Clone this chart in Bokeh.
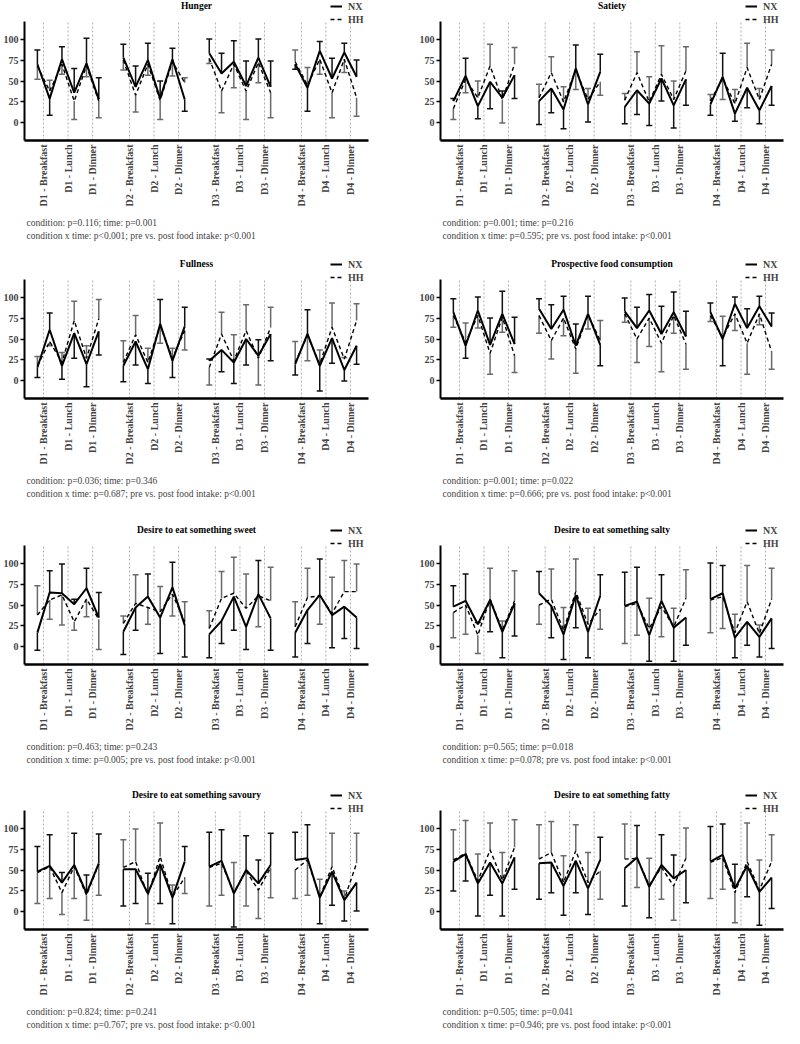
import math
from bokeh.plotting import figure
from bokeh.models import (Range1d, FixedTicker, Legend, LegendItem, Whisker, TeeHead,
                          ColumnDataSource, Title, Label)
from bokeh.layouts import column, row
from bokeh.embed import file_html
from bokeh.resources import INLINE

days = ["D1", "D2", "D3", "D4"]
meals = ["Breakfast", "Lunch", "Dinner"]
tick_labels = [f"{d} - {m}" for d in days for m in meals]
series_names = ["NX", "HH"]

titles = ["Hunger", "Satiety", "Fullness", "Prospective food consumption",
          "Desire to eat something sweet", "Desire to eat something salty",
          "Desire to eat something savoury", "Desire to eat something fatty"]

stats_line1 = ["condition: p=0.116; time: p=0.001", "condition: p=0.001; time: p=0.216",
               "condition: p=0.036; time: p=0.346", "condition: p=0.001; time: p=0.022",
               "condition: p=0.463; time: p=0.243", "condition: p=0.565; time: p=0.018",
               "condition: p=0.824; time: p=0.241", "condition: p=0.505; time: p=0.041"]
stats_line2 = ["condition x time: p<0.001; pre vs. post food intake: p<0.001",
               "condition x time: p=0.595; pre vs. post food intake: p<0.001",
               "condition x time: p=0.687; pre vs. post food intake: p<0.001",
               "condition x time: p=0.666; pre vs. post food intake: p<0.001",
               "condition x time: p=0.005; pre vs. post food intake: p<0.001",
               "condition x time: p=0.078; pre vs. post food intake: p<0.001",
               "condition x time: p=0.767; pre vs. post food intake: p<0.001",
               "condition x time: p=0.946; pre vs. post food intake: p<0.001"]

# order per day: pre/post breakfast, pre/post lunch, pre/post dinner
hunger_nx = [70, 29, 76, 36, 71, 28, 78, 43, 75, 29, 76, 28, 83, 59, 73, 44, 78, 43, 70, 42, 86, 53, 84, 55]
hunger_hh = [68, 38, 70, 26, 68, 26, 75, 33, 70, 27, 73, 48, 77, 38, 70, 38, 72, 36, 73, 45, 76, 36, 76, 30]
hunger_nx_sd = [17, 20, 15, 29, 30, 26, 16, 25, 20, 21, 13, 14, 17, 24, 25, 30, 22, 31, 6, 28, 11, 24, 11, 20]
hunger_hh_sd = [16, 13, 12, 22, 13, 20, 12, 20, 13, 23, 17, 6, 6, 26, 28, 34, 24, 30, 14, 21, 18, 30, 16, 22]

satiety_nx = [26, 56, 20, 49, 30, 57, 26, 41, 16, 65, 22, 61, 19, 39, 23, 53, 21, 52, 22, 55, 11, 42, 15, 44]
satiety_hh = [17, 52, 30, 68, 28, 70, 30, 60, 25, 63, 28, 49, 27, 60, 25, 58, 28, 62, 26, 53, 23, 66, 28, 70]
satiety_nx_sd = [3, 21, 15, 32, 8, 28, 28, 29, 23, 28, 21, 21, 20, 29, 26, 27, 27, 31, 13, 28, 9, 24, 16, 23]
satiety_hh_sd = [13, 16, 20, 26, 28, 20, 16, 19, 18, 23, 13, 16, 8, 25, 30, 34, 22, 29, 8, 25, 17, 29, 13, 17]

fullness_nx = [16, 61, 18, 57, 20, 59, 18, 47, 14, 68, 24, 65, 24, 37, 22, 50, 30, 56, 20, 56, 18, 51, 13, 42]
fullness_hh = [18, 47, 22, 72, 27, 74, 22, 55, 22, 66, 27, 60, 16, 56, 24, 60, 27, 64, 22, 54, 20, 64, 26, 72]
fullness_nx_sd = [12, 20, 16, 30, 27, 28, 19, 28, 17, 29, 20, 23, 2, 26, 25, 31, 19, 32, 13, 29, 30, 30, 13, 22]
fullness_hh_sd = [11, 5, 12, 23, 15, 23, 26, 23, 17, 21, 12, 23, 21, 26, 31, 31, 32, 24, 25, 30, 17, 29, 2, 20]

prosp_nx = [82, 42, 84, 43, 80, 44, 86, 62, 85, 42, 80, 43, 83, 63, 84, 56, 82, 53, 82, 50, 92, 63, 89, 65]
prosp_hh = [78, 46, 78, 33, 76, 30, 78, 48, 75, 38, 79, 48, 80, 50, 75, 45, 78, 44, 78, 52, 80, 45, 80, 35]
prosp_nx_sd = [16, 15, 16, 32, 27, 32, 12, 29, 16, 26, 21, 25, 16, 25, 19, 33, 24, 30, 11, 32, 8, 23, 12, 16]
prosp_hh_sd = [14, 23, 15, 25, 18, 20, 21, 22, 21, 29, 17, 24, 10, 28, 34, 34, 21, 30, 7, 25, 20, 37, 13, 21]

sweet_nx = [17, 65, 64, 51, 70, 35, 18, 47, 60, 35, 71, 26, 15, 31, 60, 24, 63, 34, 17, 44, 62, 38, 48, 35]
sweet_hh = [38, 56, 62, 30, 57, 33, 28, 52, 47, 42, 63, 30, 22, 58, 64, 46, 61, 55, 24, 59, 61, 40, 66, 66]
sweet_nx_sd = [21, 26, 35, 6, 24, 30, 27, 27, 27, 43, 30, 38, 28, 27, 40, 27, 40, 38, 29, 40, 43, 39, 38, 37]
sweet_hh_sd = [35, 23, 36, 10, 21, 36, 9, 34, 20, 30, 26, 24, 21, 32, 43, 41, 37, 40, 30, 35, 34, 43, 37, 33]

salty_nx = [48, 55, 27, 56, 18, 52, 64, 49, 15, 62, 18, 61, 49, 54, 14, 55, 23, 35, 57, 64, 11, 30, 12, 34]
salty_hh = [41, 50, 14, 57, 20, 55, 50, 57, 20, 66, 27, 45, 48, 52, 22, 48, 24, 58, 56, 60, 17, 54, 16, 57]
salty_nx_sd = [25, 32, 2, 38, 31, 39, 26, 38, 30, 39, 31, 25, 40, 41, 31, 31, 40, 33, 43, 33, 24, 28, 24, 36]
salty_hh_sd = [30, 35, 22, 37, 11, 36, 23, 36, 27, 39, 19, 24, 44, 38, 36, 36, 22, 34, 39, 38, 22, 43, 10, 37]

savoury_nx = [48, 55, 35, 56, 22, 58, 51, 51, 22, 57, 17, 60, 54, 61, 22, 50, 34, 56, 62, 64, 17, 48, 14, 35]
savoury_hh = [47, 54, 23, 54, 20, 57, 53, 60, 20, 66, 18, 41, 53, 58, 23, 49, 26, 53, 50, 62, 18, 54, 15, 58]
savoury_nx_sd = [30, 37, 12, 38, 22, 35, 44, 41, 24, 47, 31, 18, 41, 37, 40, 41, 28, 38, 33, 40, 31, 40, 25, 34]
savoury_hh_sd = [37, 38, 26, 38, 30, 37, 33, 39, 34, 40, 14, 19, 46, 38, 36, 42, 34, 36, 34, 42, 21, 40, 10, 36]

fatty_nx = [60, 69, 34, 59, 34, 65, 58, 59, 31, 61, 28, 62, 52, 65, 30, 56, 40, 50, 60, 68, 28, 55, 24, 41]
fatty_hh = [62, 70, 37, 74, 38, 77, 63, 71, 35, 73, 35, 49, 63, 64, 32, 53, 31, 64, 59, 65, 23, 60, 26, 60]
fatty_nx_sd = [35, 32, 39, 39, 39, 38, 43, 36, 35, 38, 31, 27, 45, 38, 37, 36, 28, 39, 42, 37, 29, 37, 40, 37]
fatty_hh_sd = [36, 39, 32, 32, 33, 33, 41, 37, 32, 31, 36, 34, 42, 35, 32, 38, 41, 36, 43, 38, 36, 46, 36, 32]

panels = [
    (hunger_nx, hunger_hh, hunger_nx_sd, hunger_hh_sd),
    (satiety_nx, satiety_hh, satiety_nx_sd, satiety_hh_sd),
    (fullness_nx, fullness_hh, fullness_nx_sd, fullness_hh_sd),
    (prosp_nx, prosp_hh, prosp_nx_sd, prosp_hh_sd),
    (sweet_nx, sweet_hh, sweet_nx_sd, sweet_hh_sd),
    (salty_nx, salty_hh, salty_nx_sd, salty_hh_sd),
    (savoury_nx, savoury_hh, savoury_nx_sd, savoury_hh_sd),
    (fatty_nx, fatty_hh, fatty_nx_sd, fatty_hh_sd),
]

SERIF = "Liberation Serif"
N_PER_DAY = 6
DAY_STEP = 7
xpos = [DAY_STEP * g + i for g in range(len(days)) for i in range(N_PER_DAY)]
tick_pos = [DAY_STEP * g + 2 * m + 0.5 for g in range(len(days)) for m in range(len(meals))]

X_LO, X_HI = -1.05, 26.97
Y_LO, Y_HI = -21, 121          # extent of the drawn y axis
PLOT_PX = 119                  # pixels between Y_LO and Y_HI
AXIS_TOP = 21                  # frame-pixel (from top) where Y_HI sits; title/legend live above it
FRAME_H = PLOT_PX + AXIS_TOP
UNITS_PER_PX = (Y_HI - Y_LO) / PLOT_PX
Y_END = Y_LO + FRAME_H * UNITS_PER_PX
TITLE_Y = Y_END - 5.5 * UNITS_PER_PX
row_heights = [258, 266, 265, 247]
FIG_W = 392


def whisker_sources(mean, other, sd):
    up = dict(x=[], lower=[], upper=[])
    dn = dict(x=[], lower=[], upper=[])
    for x, m, o, s in zip(xpos, mean, other, sd):
        if m >= o:
            up["x"].append(x); up["lower"].append(m); up["upper"].append(m + s)
        else:
            dn["x"].append(x); dn["lower"].append(m - s); dn["upper"].append(m)
    return ColumnDataSource(up), ColumnDataSource(dn)


def make_panel(idx, height):
    nx, hh, nx_sd, hh_sd = panels[idx]
    left = (idx % 2 == 0)
    bl = 21 if left else 48
    br = 24 if left else 1
    p = figure(width=FIG_W, height=height, x_range=Range1d(X_LO, X_HI), y_range=Range1d(Y_LO, Y_END),
               output_backend="svg", toolbar_location=None,
               min_border_left=bl, min_border_right=br, min_border_top=0,
               min_border_bottom=height - FRAME_H)
    p.outline_line_color = None
    p.background_fill_color = "white"
    p.border_fill_color = "white"

    # panel title, centred over the plotting frame
    p.add_layout(Label(x=(X_LO + X_HI) / 2, y=TITLE_Y, text=titles[idx], text_align="center",
                       text_baseline="middle", text_font=SERIF, text_font_style="bold",
                       text_font_size="9.5px", text_color="black"))

    # axes
    p.xaxis.ticker = FixedTicker(ticks=tick_pos)
    p.xaxis.major_label_overrides = {t: lab for t, lab in zip(tick_pos, tick_labels)}
    p.xaxis.major_label_orientation = math.pi / 2
    p.xaxis.major_label_text_font = SERIF
    p.xaxis.major_label_text_font_style = "bold"
    p.xaxis.major_label_text_font_size = "10px"
    p.xaxis.major_label_standoff = 4
    p.xaxis.major_tick_out = 0
    p.xaxis.major_tick_in = 0
    p.xaxis.minor_tick_line_color = None
    p.xaxis.axis_line_width = 2.5
    p.xaxis.axis_line_color = "black"

    p.yaxis.ticker = FixedTicker(ticks=[0, 25, 50, 75, 100])
    p.yaxis.bounds = (Y_LO, Y_HI)
    p.yaxis.major_label_text_font = SERIF
    p.yaxis.major_label_text_font_style = "bold"
    p.yaxis.major_label_text_font_size = "10px"
    p.yaxis.major_label_standoff = 2
    p.yaxis.major_tick_out = 4
    p.yaxis.major_tick_in = 0
    p.yaxis.major_tick_line_width = 1.5
    p.yaxis.minor_tick_line_color = None
    p.yaxis.axis_line_width = 2
    p.yaxis.axis_line_color = "black"

    p.xgrid.grid_line_color = None
    p.ygrid.grid_line_color = None
    # dotted meal markers at the tick positions, spanning the drawn y axis
    p.segment(x0=tick_pos, y0=[Y_LO] * len(tick_pos), x1=tick_pos, y1=[Y_HI] * len(tick_pos),
              line_color="#9a9a9a", line_dash="2 2", line_width=0.8)

    # error bars (one-sided, away from the other condition)
    for mean, other, sd, col in [(nx, hh, nx_sd, "#111111"), (hh, nx, hh_sd, "#6a6a6a")]:
        up, dn = whisker_sources(mean, other, sd)
        p.add_layout(Whisker(source=up, base="x", lower="lower", upper="upper", dimension="height",
                             line_color=col, line_width=1.5, lower_head=None,
                             upper_head=TeeHead(size=6, line_color=col, line_width=1.5)))
        p.add_layout(Whisker(source=dn, base="x", lower="lower", upper="upper", dimension="height",
                             line_color=col, line_width=1.5, upper_head=None,
                             lower_head=TeeHead(size=6, line_color=col, line_width=1.5)))

    xs = [xpos[g * N_PER_DAY:(g + 1) * N_PER_DAY] for g in range(len(days))]
    r_nx = p.multi_line(xs=xs, ys=[nx[g * N_PER_DAY:(g + 1) * N_PER_DAY] for g in range(len(days))],
                        line_color="black", line_width=2)
    r_hh = p.multi_line(xs=xs, ys=[hh[g * N_PER_DAY:(g + 1) * N_PER_DAY] for g in range(len(days))],
                        line_color="black", line_width=1.4, line_dash="4 3")

    legend = Legend(items=[LegendItem(label=series_names[0], renderers=[r_nx]),
                           LegendItem(label=series_names[1], renderers=[r_hh])],
                    location="top_right",
                    glyph_width=12, glyph_height=12, label_height=12, spacing=1,
                    padding=0, margin=0, label_standoff=6,
                    label_text_font=SERIF, label_text_font_style="bold", label_text_font_size="10px",
                    border_line_color=None, background_fill_alpha=0)
    p.add_layout(legend)

    off = 2
    t1 = Title(text=stats_line1[idx] + "\n" + stats_line2[idx], align="left", offset=off, standoff=12,
               text_font=SERIF, text_font_style="normal", text_font_size="9.5px",
               text_line_height=1.25)
    p.add_layout(t1, "below")
    return p


rows = []
for r in range(4):
    rows.append(row(make_panel(2 * r, row_heights[r]), make_panel(2 * r + 1, row_heights[r])))
layout = column(*rows)

open("out.html", "w").write(file_html(layout, INLINE))
